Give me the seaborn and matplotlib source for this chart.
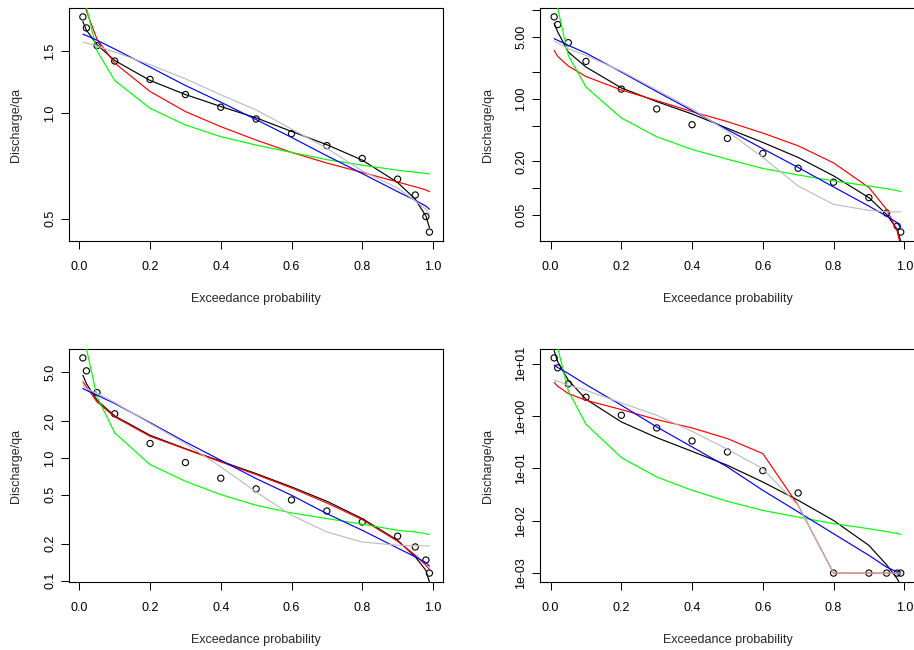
import numpy as np
import pandas as pd
import matplotlib
matplotlib.use("Agg")
import matplotlib.pyplot as plt
import seaborn as sns

# ---------------- data ----------------
p = [0.01, 0.02, 0.05, 0.1, 0.2, 0.3, 0.4, 0.5, 0.6, 0.7, 0.8, 0.9, 0.95, 0.98, 0.99]

obs1 = [1.876, 1.745, 1.554, 1.405, 1.245, 1.128, 1.038, 0.961, 0.873, 0.807, 0.742, 0.648, 0.584, 0.507, 0.458]
black1 = [1.82, 1.72, 1.564, 1.41, 1.237, 1.128, 1.043, 0.968, 0.886, 0.812, 0.734, 0.634, 0.568, 0.509, 0.471]
red1 = [2.2, 1.95, 1.62, 1.386, 1.151, 1.009, 0.914, 0.837, 0.772, 0.720, 0.677, 0.636, 0.616, 0.604, 0.597]
green1 = [2.5, 2.0, 1.50, 1.237, 1.031, 0.924, 0.856, 0.810, 0.772, 0.736, 0.710, 0.687, 0.678, 0.673, 0.670]
blue1 = [1.674, 1.66, 1.61, 1.52, 1.35, 1.197, 1.073, 0.957, 0.852, 0.755, 0.672, 0.597, 0.564, 0.543, 0.532]
gray1 = [1.592, 1.58, 1.55, 1.49, 1.371, 1.251, 1.126, 1.02, 0.90, 0.793, 0.684, 0.611, 0.562, 0.532, 0.515]

obs2 = [8.41, 6.90, 4.32, 2.66, 1.30, 0.778, 0.518, 0.363, 0.246, 0.168, 0.117, 0.0785, 0.0527, 0.0376, 0.0322]
black2 = [7.08, 5.70, 3.39, 2.30, 1.34, 0.941, 0.683, 0.471, 0.327, 0.222, 0.138, 0.0785, 0.0509, 0.0345, 0.0254]
red2 = [3.54, 3.03, 2.36, 1.80, 1.27, 0.966, 0.726, 0.560, 0.417, 0.300, 0.193, 0.102, 0.058, 0.033, 0.022]
green2 = [16.0, 10.5, 3.11, 1.37, 0.616, 0.379, 0.273, 0.212, 0.167, 0.141, 0.121, 0.106, 0.099, 0.094, 0.0917]
blue2 = [4.79, 4.59, 4.03, 3.30, 2.02, 1.22, 0.745, 0.455, 0.278, 0.171, 0.1035, 0.063, 0.0487, 0.041, 0.036]
gray2 = [4.51, 4.28, 3.70, 3.11, 2.07, 1.27, 0.778, 0.436, 0.222, 0.106, 0.066, 0.0565, 0.0545, 0.0545, 0.0545]

obs3 = [6.54, 5.13, 3.41, 2.29, 1.31, 0.916, 0.683, 0.559, 0.454, 0.369, 0.300, 0.230, 0.188, 0.147, 0.115]
black3 = [4.73, 4.04, 2.95, 2.20, 1.53, 1.19, 0.939, 0.745, 0.580, 0.443, 0.320, 0.213, 0.156, 0.121, 0.097]
red3 = [4.17, 3.80, 2.86, 2.16, 1.50, 1.18, 0.928, 0.731, 0.569, 0.429, 0.314, 0.209, 0.161, 0.133, 0.123]
green3 = [12.0, 7.8, 3.15, 1.60, 0.882, 0.645, 0.502, 0.411, 0.356, 0.320, 0.288, 0.257, 0.249, 0.241, 0.237]
blue3 = [3.68, 3.56, 3.25, 2.78, 1.94, 1.35, 0.957, 0.678, 0.496, 0.351, 0.257, 0.184, 0.156, 0.140, 0.131]
gray3 = [3.92, 3.68, 3.35, 2.83, 1.91, 1.31, 0.845, 0.528, 0.341, 0.249, 0.206, 0.194, 0.192, 0.192, 0.192]

obs4 = [12.8, 8.26, 4.09, 2.27, 1.03, 0.590, 0.333, 0.205, 0.0902, 0.0338, 0.001, 0.001, 0.001, 0.001, 0.001]
black4 = [17.6, 10.8, 4.8, 2.08, 0.768, 0.385, 0.211, 0.114, 0.0548, 0.0245, 0.0101, 0.00338, 0.00144, 0.00078, 0.00058]
red4 = [4.33, 3.69, 2.67, 1.99, 1.32, 0.851, 0.59, 0.369, 0.191, 0.0196, 0.001, 0.001, 0.001, 0.001, 0.001]
green4 = [40.0, 20.0, 3.0, 0.693, 0.160, 0.0683, 0.038, 0.0234, 0.0157, 0.0117, 0.00877, 0.00703, 0.0062, 0.0057, 0.00548]
blue4 = [9.29, 8.39, 6.44, 3.97, 1.60, 0.616, 0.256, 0.106, 0.038, 0.0147, 0.00565, 0.00218, 0.0013, 0.00105, 0.001]
gray4 = [4.8, 4.6, 3.85, 3.09, 1.77, 1.03, 0.509, 0.231, 0.0986, 0.0196, 0.001, 0.001, 0.001, 0.001, 0.001]

xticks = [0.0, 0.2, 0.4, 0.6, 0.8, 1.0]
xticklabels = ["0.0", "0.2", "0.4", "0.6", "0.8", "1.0"]

yticks1 = [0.5, 1.0, 1.5]
yticklabels1 = ["0.5", "1.0", "1.5"]
yticks2 = [0.05, 0.1, 0.2, 0.5, 1, 2, 5, 10]
yticklabels2 = ["0.05", "", "0.20", "", "1.00", "", "5.00", ""]
yticks3 = [0.1, 0.2, 0.5, 1, 2, 5]
yticklabels3 = ["0.1", "0.2", "0.5", "1.0", "2.0", "5.0"]
yticks4 = [1e-3, 1e-2, 1e-1, 1, 10]
yticklabels4 = ["1e-03", "1e-02", "1e-01", "1e+00", "1e+01"]

xlabel = "Exceedance probability"
ylabel = "Discharge/qa"

models = ["black", "red", "green", "blue", "gray"]
palette = {"black": "#000000", "red": "#FF0000", "green": "#00FF00",
           "blue": "#0000FF", "gray": "#BEBEBE"}

panels = [
    (obs1, {"black": black1, "red": red1, "green": green1, "blue": blue1, "gray": gray1}, yticks1, yticklabels1),
    (obs2, {"black": black2, "red": red2, "green": green2, "blue": blue2, "gray": gray2}, yticks2, yticklabels2),
    (obs3, {"black": black3, "red": red3, "green": green3, "blue": blue3, "gray": gray3}, yticks3, yticklabels3),
    (obs4, {"black": black4, "red": red4, "green": green4, "blue": blue4, "gray": gray4}, yticks4, yticklabels4),
]

# ---------------- style ----------------
sns.set_style("ticks")
plt.rcParams["font.family"] = ["Liberation Sans", "DejaVu Sans"]
FS = 9.0

W, H = 914, 650
fig = plt.figure(figsize=(W / 100, H / 100), dpi=100)
fig.patch.set_facecolor("white")

boxes = [(69.0, 8.3, 443.3, 240.7), (540.3, 8.3, 914.6, 240.7),
         (69.0, 349.3, 443.3, 581.7), (540.3, 349.3, 914.6, 581.7)]

for (l, t, r, b), (obs, fits, yt, ytl) in zip(boxes, panels):
    ax = fig.add_axes([l / W, 1 - b / H, (r - l) / W, (b - t) / H])
    ax.set_facecolor("white")
    ax.set_yscale("log")

    rows = []
    for m in models:
        for xi, yi in zip(p, fits[m]):
            rows.append({"p": xi, "q": yi, "model": m})
    df = pd.DataFrame(rows)

    sns.scatterplot(x=p, y=obs, ax=ax, marker="o", s=20, facecolors="none",
                    edgecolors="black", linewidths=0.8, zorder=2, legend=False)
    sns.lineplot(data=df, x="p", y="q", hue="model", hue_order=models,
                 palette=palette, estimator=None, sort=False, legend=False,
                 linewidth=0.85, ax=ax, zorder=3)

    lo, hi = np.log(min(obs)), np.log(max(obs))
    d = 0.04 * (hi - lo)
    ax.set_ylim(np.exp(lo - d), np.exp(hi + d))
    ax.set_xlim(0.01 - 0.04 * 0.98, 0.99 + 0.04 * 0.98)

    ax.set_xticks(xticks)
    ax.set_xticklabels(xticklabels)
    ax.yaxis.set_minor_locator(matplotlib.ticker.NullLocator())
    ax.set_yticks(yt)
    ax.set_yticklabels(ytl, rotation=90, va="center")

    ax.tick_params(axis="both", direction="out", length=5.5, width=0.75,
                   colors="black", labelsize=FS)
    ax.tick_params(axis="x", pad=9.4)
    ax.tick_params(axis="y", pad=3.7)
    for s in ax.spines.values():
        s.set_visible(True)
        s.set_color("black")
        s.set_linewidth(0.8)

    ax.set_xlabel(xlabel, fontsize=FS)
    ax.set_ylabel(ylabel, fontsize=FS)
    ax.xaxis.label.set_va("center")
    ax.yaxis.label.set_va("center")
    ax.xaxis.set_label_coords(0.5, (240.7 - 298.7) / 232.4)
    ax.yaxis.set_label_coords((16.7 - 69.3) / 374.3, 0.5)

fig.savefig("out.png", dpi=100, facecolor="white")
